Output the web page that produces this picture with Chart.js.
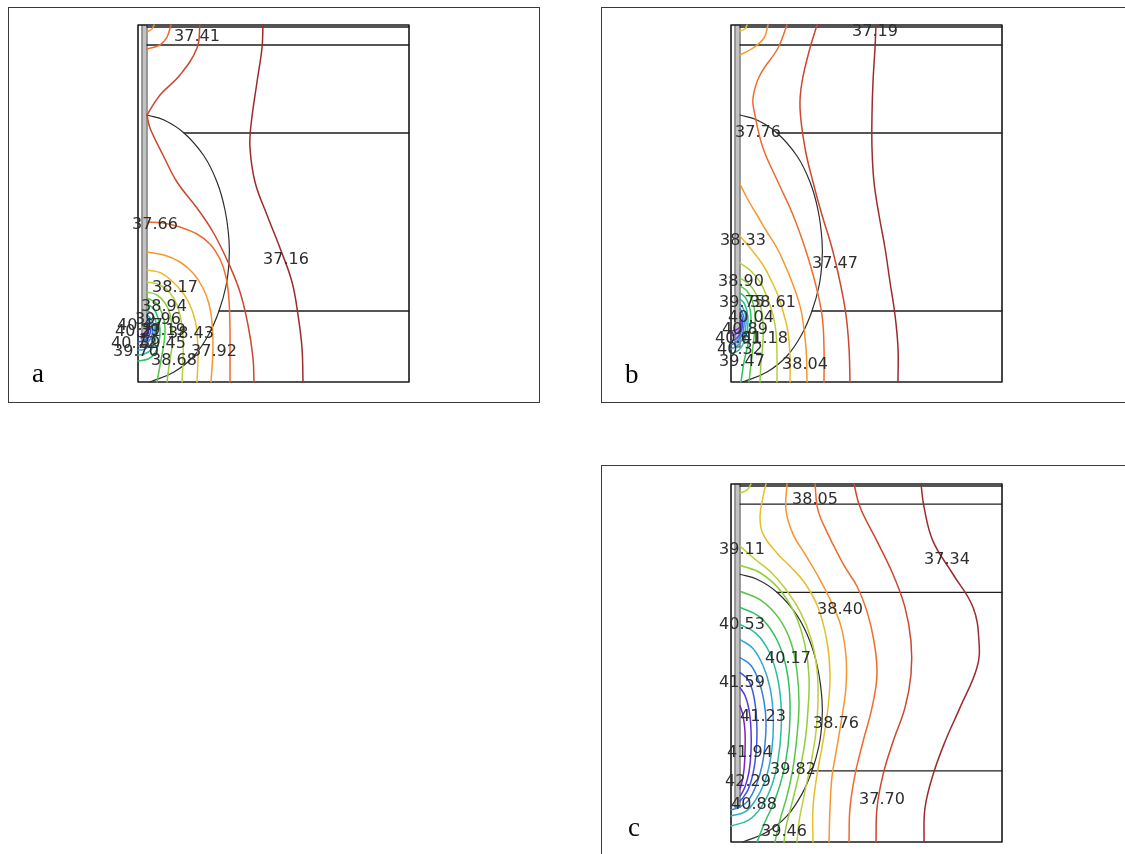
<!DOCTYPE html>
<html>
<head>
<meta charset="utf-8">
<script src="https://cdn.jsdelivr.net/npm/chart.js@4.4.1/dist/chart.umd.min.js"></script>
<style>
  html, body { margin: 0; padding: 0; background: #fff; overflow: hidden; }
  body { width: 1125px; height: 854px; position: relative; }
  .frame { position: absolute; border: 1px solid #3a3a3a; box-sizing: border-box; }
  .tag { position: absolute; font-family: "Liberation Serif", "DejaVu Serif", serif; font-size: 27px; line-height: 27px; color: #000; }
  canvas { position: absolute; }
</style>
</head>
<body>
<div class="frame" style="left:8px;top:7px;width:532px;height:396px"></div>
<div class="frame" style="left:601px;top:7px;width:540px;height:396px"></div>
<div class="frame" style="left:601px;top:465px;width:540px;height:400px"></div>

<canvas id="panelA" width="530" height="394" style="left:9px;top:8px"></canvas>
<canvas id="panelB" width="523" height="394" style="left:602px;top:8px"></canvas>
<canvas id="panelC" width="523" height="388" style="left:602px;top:466px"></canvas>

<div class="tag" style="left:32px;top:360px">a</div>
<div class="tag" style="left:625px;top:361px">b</div>
<div class="tag" style="left:628px;top:814px">c</div>

<script>
// Temperature contour levels (°C) for each case, lowest to highest
const levelsA = [37.16, 37.41, 37.66, 37.92, 38.17, 38.43, 38.68, 38.94, 39.19, 39.45, 39.70, 39.96, 40.21, 40.47, 40.72];
const levelsB = [37.19, 37.47, 37.76, 38.04, 38.33, 38.61, 38.90, 39.18, 39.47, 39.75, 40.04, 40.32, 40.61, 40.89, 41.18];
const levelsC = [37.34, 37.70, 38.05, 38.40, 38.76, 39.11, 39.46, 39.82, 40.17, 40.53, 40.88, 41.23, 41.59, 41.94, 42.29];

// Rainbow colour map, one colour per level index (cool end = hottest)
const palette = ['#9c2b2d', '#cc4630', '#ef6a2c', '#f7962e', '#e6bd2a', '#b9d03a', '#8fcf3e', '#55c746',
                 '#2fc15e', '#2dbd9a', '#2fa8d2', '#3080e6', '#3a55e6', '#5a34da', '#7c22c4'];

// Geometry in mm: r across (0..27.1), z up (0..35.7)
const domainBox = [[0, 0], [27.1, 0], [27.1, 35.7], [0, 35.7], [0, 0]];
const layerLines = [
  [[0.9, 35.5], [27.1, 35.5]],
  [[0.9, 33.7], [27.1, 33.7]],
  [[4.6, 24.9], [27.1, 24.9]],
  [[8.1, 7.1], [27.1, 7.1]]
];
const heatedZone = [[0.9, 26.7], [2.6, 26.2], [4.6, 24.9], [6.6, 22.6], [7.9, 20.0], [8.7, 17.2], [9.1, 14.2],
                    [9.1, 12.0], [8.8, 9.6], [8.1, 7.1], [7.1, 4.8], [5.6, 2.6], [3.6, 1.0], [1.2, 0]];
const probeWalls = [
  [[0.4, 3.5], [0.4, 35.7]],
  [[0.9, 3.5], [0.9, 35.7]],
  [[0.4, 3.5], [0.9, 3.5]]
];
const probeCore = [[0.65, 3.6], [0.65, 35.6]];

// Isotherms: [level, points]
const contoursA = [
  [37.16, [[12.5, 35.7], [12.4, 33.4], [11.9, 30.0], [11.3, 25.7], [11.2, 23.4], [11.7, 20.0], [12.9, 16.7], [14.2, 13.4], [15.4, 10.0], [16.0, 6.7], [16.4, 3.4], [16.5, 0]]],
  [37.41, [[6.2, 35.7], [5.9, 33.4], [4.2, 30.7], [2.2, 28.7], [0.9, 26.7]]],
  [37.41, [[0.9, 26.7], [1.2, 25.4], [2.5, 22.7], [3.9, 20.0], [5.9, 17.4], [7.5, 15.0], [9.0, 12.0], [10.2, 9.0], [11.0, 5.7], [11.5, 2.4], [11.6, 0]]],
  [37.66, [[3.3, 35.7], [2.9, 34.5], [2.2, 33.7], [0.9, 33.3]]],
  [37.92, [[1.6, 35.7], [1.4, 35.3], [0.9, 35.0]]],
  [37.66, [[0.9, 16.0], [2.5, 15.9], [4.2, 15.5], [5.9, 14.8], [7.2, 13.8], [8.2, 12.3], [8.8, 10.5], [9.1, 8.2], [9.2, 5.0], [9.2, 2.0], [9.2, 0]]],
  [37.92, [[0.9, 13.0], [2.6, 12.7], [4.2, 12.0], [5.5, 10.9], [6.5, 9.4], [7.1, 7.8], [7.4, 6.0], [7.5, 3.4], [7.3, 0]]],
  [38.17, [[0.9, 11.2], [2.3, 10.9], [3.5, 10.0], [4.5, 8.9], [5.2, 7.7], [5.7, 6.2], [5.9, 5.0], [6.0, 2.5], [5.9, 0]]],
  [38.43, [[0.9, 10.0], [2.2, 9.7], [3.2, 8.9], [3.9, 7.7], [4.3, 6.2], [4.5, 4.5], [4.5, 2.2], [4.4, 0]]],
  [38.68, [[0.9, 9.0], [1.9, 8.7], [2.7, 7.9], [3.2, 6.8], [3.4, 5.4], [3.4, 3.6], [3.1, 1.6], [2.9, 0]]],
  [38.94, [[0.9, 8.4], [1.8, 7.9], [2.4, 6.9], [2.7, 5.5], [2.6, 3.9], [2.3, 2.2], [1.9, 0]]],
  [39.19, [[0.9, 7.8], [1.6, 7.3], [2.0, 6.4], [2.2, 5.2], [2.1, 4.0], [1.7, 2.9], [1.0, 2.3], [0.0, 2.1]]],
  [39.45, [[0.9, 7.2], [1.4, 6.8], [1.8, 6.0], [1.9, 5.0], [1.7, 4.0], [1.3, 3.2], [0.6, 2.8], [0.0, 2.7]]],
  [39.70, [[0.9, 6.7], [1.3, 6.3], [1.6, 5.6], [1.6, 4.8], [1.4, 4.0], [0.9, 3.4], [0.3, 3.2], [0.0, 3.2]]],
  [39.96, [[0.9, 6.3], [1.2, 6.0], [1.4, 5.4], [1.4, 4.7], [1.1, 4.1], [0.6, 3.7], [0.0, 3.6]]],
  [40.21, [[0.9, 5.9], [1.15, 5.6], [1.25, 5.1], [1.1, 4.6], [0.7, 4.2], [0.0, 4.0]]],
  [40.47, [[0.9, 5.6], [1.05, 5.3], [1.05, 4.9], [0.8, 4.6], [0.3, 4.4]]],
  [40.72, [[0.9, 5.3], [0.95, 5.05], [0.7, 4.85], [0.3, 4.75]]]
];

const contoursB = [
  [37.19, [[14.5, 35.7], [14.4, 33.4], [14.2, 30.0], [14.1, 26.7], [14.1, 23.4], [14.3, 20.0], [14.8, 16.7], [15.4, 13.4], [15.9, 10.0], [16.4, 6.7], [16.7, 3.4], [16.7, 0]]],
  [37.47, [[8.6, 35.7], [7.9, 33.4], [7.1, 30.0], [6.9, 27.4], [7.4, 23.4], [8.2, 20.0], [9.1, 16.7], [10.1, 13.4], [10.9, 10.0], [11.5, 6.7], [11.8, 3.4], [11.9, 0]]],
  [37.76, [[5.6, 35.7], [4.7, 33.4], [2.9, 30.7], [2.2, 28.4], [2.4, 26.7], [3.2, 23.4], [4.7, 20.0], [6.2, 16.7], [7.4, 13.4], [8.4, 10.0], [9.1, 6.7], [9.3, 3.4], [9.3, 0]]],
  [38.04, [[3.7, 35.7], [3.3, 34.4], [2.2, 33.4], [0.9, 32.7]]],
  [38.33, [[1.6, 35.7], [1.4, 35.3], [0.9, 35.1]]],
  [38.04, [[0.9, 19.8], [1.6, 18.4], [2.6, 16.7], [3.6, 15.0], [4.6, 13.4], [5.4, 11.7], [6.1, 10.0], [6.7, 8.3], [7.1, 6.7], [7.5, 3.4], [7.6, 0]]],
  [38.33, [[0.9, 14.6], [2.0, 13.3], [3.2, 11.7], [4.1, 10.0], [4.8, 8.4], [5.3, 6.7], [5.7, 5.0], [5.9, 2.5], [5.9, 0]]],
  [38.61, [[0.9, 11.9], [2.0, 11.1], [2.9, 10.0], [3.6, 8.5], [4.2, 6.7], [4.5, 5.0], [4.6, 2.5], [4.6, 0]]],
  [38.90, [[0.9, 10.4], [1.8, 9.8], [2.5, 8.8], [3.0, 7.4], [3.2, 5.8], [3.2, 4.0], [3.0, 2.0], [2.9, 0]]],
  [39.18, [[0.9, 9.6], [1.6, 9.1], [2.1, 8.2], [2.4, 6.9], [2.4, 5.4], [2.2, 3.6], [2.0, 1.8], [1.8, 0]]],
  [39.47, [[0.9, 8.9], [1.4, 8.5], [1.8, 7.7], [2.0, 6.5], [1.9, 5.2], [1.7, 3.8], [1.3, 2.0], [1.0, 0]]],
  [39.75, [[0.9, 8.3], [1.3, 7.9], [1.6, 7.1], [1.7, 6.1], [1.6, 5.0], [1.3, 4.0], [0.8, 3.2], [0.0, 2.8]]],
  [40.04, [[0.9, 7.8], [1.2, 7.4], [1.45, 6.7], [1.5, 5.9], [1.4, 5.0], [1.1, 4.2], [0.6, 3.6], [0.0, 3.3]]],
  [40.32, [[0.9, 7.3], [1.1, 7.0], [1.3, 6.4], [1.3, 5.7], [1.2, 5.0], [0.9, 4.4], [0.4, 3.9], [0.0, 3.7]]],
  [40.61, [[0.9, 6.9], [1.1, 6.5], [1.15, 5.9], [1.1, 5.3], [0.9, 4.8], [0.5, 4.3], [0.0, 4.1]]],
  [40.89, [[0.9, 6.5], [1.0, 6.1], [1.0, 5.6], [0.9, 5.2], [0.5, 4.8], [0.0, 4.6]]],
  [41.18, [[0.9, 6.1], [0.95, 5.8], [0.9, 5.5], [0.5, 5.2], [0.0, 5.1]]]
];

const contoursC = [
  [37.34, [[19.0, 35.7], [19.3, 33.4], [20.2, 30.0], [22.2, 26.7], [24.2, 23.4], [24.8, 20.0], [24.6, 17.4], [22.9, 13.4], [21.4, 10.0], [20.2, 6.7], [19.4, 3.4], [19.3, 0]]],
  [37.70, [[12.3, 35.7], [12.9, 33.4], [14.6, 30.0], [16.2, 26.7], [17.4, 23.4], [18.0, 20.0], [18.0, 16.7], [17.4, 13.4], [16.2, 10.0], [15.2, 6.7], [14.6, 3.4], [14.5, 0]]],
  [38.05, [[8.4, 35.7], [8.7, 33.1], [9.7, 30.7], [10.7, 28.7], [11.4, 27.4], [12.6, 25.5], [13.6, 23.0], [14.3, 20.0], [14.6, 16.7], [14.1, 13.4], [13.2, 10.0], [12.4, 6.7], [11.9, 3.4], [11.8, 0]]],
  [38.40, [[5.6, 35.7], [5.5, 33.1], [6.2, 30.7], [7.4, 28.7], [8.6, 26.7], [10.0, 24.0], [11.0, 21.5], [11.5, 18.5], [11.5, 15.5], [11.1, 12.5], [10.6, 9.5], [10.1, 6.5], [9.9, 3.4], [9.8, 0]]],
  [38.76, [[3.5, 35.7], [3.2, 34.4], [2.9, 32.4], [3.2, 30.7], [4.7, 28.7], [6.0, 27.4], [7.4, 25.8], [8.7, 23.4], [9.6, 20.0], [9.9, 16.7], [9.7, 13.4], [9.2, 10.0], [8.6, 6.7], [8.2, 3.4], [8.2, 0]]],
  [39.11, [[2.0, 35.7], [1.6, 35.1], [0.9, 34.8]]],
  [39.11, [[0.9, 29.5], [2.4, 28.2], [4.0, 26.9], [5.4, 25.3], [6.9, 23.0], [8.0, 20.3], [8.6, 17.2], [8.7, 14.0], [8.5, 11.0], [8.0, 7.9], [7.3, 4.6], [6.8, 2.0], [6.6, 0]]],
  [39.46, [[0.9, 27.6], [3.0, 26.8], [5.0, 25.0], [6.5, 22.5], [7.4, 19.6], [7.8, 16.5], [7.7, 13.2], [7.4, 10.0], [6.8, 6.8], [6.0, 3.5], [5.5, 1.5], [5.3, 0]]],
  [39.82, [[0.9, 25.0], [3.0, 24.1], [4.8, 22.3], [6.0, 19.9], [6.6, 17.0], [6.8, 13.8], [6.6, 10.6], [6.2, 7.4], [5.6, 4.6], [4.9, 2.2], [4.4, 0]]],
  [40.17, [[0.9, 23.4], [2.8, 22.5], [4.3, 20.7], [5.3, 18.3], [5.8, 15.6], [5.9, 12.6], [5.7, 9.6], [5.2, 6.8], [4.4, 4.2], [3.4, 2.0], [2.6, 0]]],
  [40.53, [[0.9, 21.7], [2.5, 20.8], [3.8, 19.0], [4.6, 16.6], [5.0, 13.8], [5.0, 11.0], [4.7, 8.2], [4.1, 5.7], [3.1, 3.6], [1.8, 2.2], [0.0, 1.6]]],
  [40.88, [[0.9, 20.2], [2.2, 19.3], [3.2, 17.6], [3.9, 15.4], [4.2, 13.0], [4.2, 10.5], [3.9, 8.0], [3.3, 5.8], [2.4, 4.1], [1.4, 3.0], [0.0, 2.6]]],
  [41.23, [[0.9, 18.4], [2.0, 17.6], [2.8, 16.0], [3.3, 14.0], [3.5, 12.0], [3.4, 9.8], [3.1, 7.6], [2.5, 5.6], [1.7, 4.1], [0.9, 3.5], [0.0, 3.2]]],
  [41.59, [[0.9, 16.9], [1.7, 16.2], [2.2, 14.9], [2.5, 13.0], [2.6, 11.0], [2.5, 8.8], [2.2, 6.8], [1.7, 5.2], [1.1, 4.3], [0.9, 4.1]]],
  [41.94, [[0.9, 15.4], [1.4, 14.6], [1.8, 13.2], [2.0, 11.2], [2.0, 9.0], [1.8, 7.0], [1.4, 5.5], [1.0, 4.7], [0.9, 4.6]]],
  [42.29, [[0.9, 13.6], [1.2, 12.6], [1.4, 11.0], [1.4, 9.0], [1.3, 7.2], [1.1, 6.0], [0.9, 5.3]]]
];

// Inline isotherm labels: [level, r, z]
const labelsA = [
  [37.41, 5.9, 34.5], [37.66, 1.7, 15.7], [37.16, 14.8, 12.2], [38.17, 3.7, 9.4], [38.94, 2.6, 7.5],
  [39.96, 2.0, 6.2], [40.47, 0.2, 5.6], [40.21, 0.0, 5.0], [39.19, 2.5, 5.1], [38.43, 5.3, 4.8],
  [40.72, -0.4, 3.8], [39.45, 2.5, 3.8], [39.70, -0.2, 3.0], [37.92, 7.6, 3.0], [38.68, 3.6, 2.1]
];
const labelsB = [
  [37.19, 14.4, 35.0], [37.76, 2.7, 24.9], [38.33, 1.2, 14.1], [37.47, 10.4, 11.8], [38.90, 1.0, 10.0],
  [39.75, 1.1, 7.9], [38.61, 4.2, 7.9], [40.04, 2.0, 6.4], [40.89, 1.4, 5.2], [40.61, 0.7, 4.3],
  [41.18, 3.4, 4.3], [40.32, 0.9, 3.2], [39.47, 1.1, 2.0], [38.04, 7.4, 1.7]
];
const labelsC = [
  [38.05, 8.4, 34.1], [39.11, 1.1, 29.1], [37.34, 21.6, 28.1], [38.40, 10.9, 23.2], [40.53, 1.1, 21.7],
  [40.17, 5.7, 18.3], [41.59, 1.1, 15.9], [41.23, 3.2, 12.5], [38.76, 10.5, 11.8], [41.94, 1.9, 8.9],
  [39.82, 6.2, 7.2], [42.29, 1.7, 6.0], [37.70, 15.1, 4.2], [40.88, 2.3, 3.7], [39.46, 5.3, 1.0]
];

function toXY(pts) { return pts.map(p => ({ x: p[0], y: p[1] })); }

function lineSet(pts, color, width, tension, order) {
  return {
    data: toXY(pts), showLine: true, borderColor: color, borderWidth: width,
    pointRadius: 0, tension: tension, clip: false, order: order,
    borderJoinStyle: 'round', borderCapStyle: 'round', fill: false
  };
}

function buildPanel(id, levels, contours, labels, pad) {
  const datasets = [];
  contours.forEach(([lv, pts]) => {
    datasets.push(lineSet(pts, palette[levels.indexOf(lv)], 1.5, 0.4, 1));
  });
  datasets.push(lineSet(heatedZone, '#2e2e2e', 1.2, 0.4, 2));
  layerLines.forEach(l => datasets.push(lineSet(l, '#1e1e1e', 1.3, 0, 3)));
  datasets.push(lineSet(domainBox, '#1a1a1a', 1.6, 0, 3));
  probeWalls.forEach(l => datasets.push(lineSet(l, '#4a4a4a', 1.1, 0, 4)));
  datasets.push(lineSet(probeCore, '#c2c2c2', 3.6, 0, 5));

  const isothermText = {
    id: 'isothermText',
    afterDatasetsDraw(chart) {
      const { ctx, scales: { x, y } } = chart;
      ctx.save();
      ctx.font = '16px "DejaVu Sans", sans-serif';
      ctx.fillStyle = '#2e2e2e';
      ctx.textAlign = 'center';
      ctx.textBaseline = 'middle';
      labels.forEach(([lv, r, z]) => {
        ctx.fillText(lv.toFixed(2), x.getPixelForValue(r), y.getPixelForValue(z));
      });
      ctx.restore();
    }
  };

  new Chart(document.getElementById(id), {
    type: 'scatter',
    data: { datasets },
    options: {
      responsive: false,
      animation: false,
      devicePixelRatio: 1,
      events: [],
      layout: { padding: pad },
      scales: {
        x: { type: 'linear', min: 0, max: 27.1, display: false },
        y: { type: 'linear', min: 0, max: 35.7, display: false }
      },
      plugins: { legend: { display: false }, tooltip: { enabled: false } }
    },
    plugins: [isothermText]
  });
}

buildPanel('panelA', levelsA, contoursA, labelsA, { left: 129, right: 130, top: 17, bottom: 20 });
buildPanel('panelB', levelsB, contoursB, labelsB, { left: 129, right: 123, top: 17, bottom: 20 });
buildPanel('panelC', levelsC, contoursC, labelsC, { left: 129, right: 123, top: 18, bottom: 12 });
</script>
</body>
</html>
